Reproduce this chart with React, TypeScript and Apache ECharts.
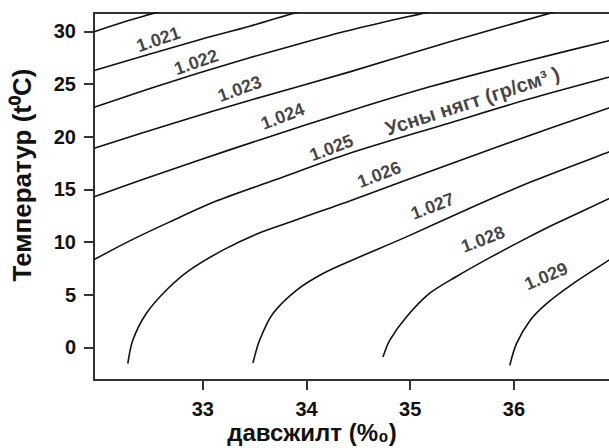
import React, { useEffect, useRef } from "react";
import * as echarts from "echarts";

// Axis ticks
const salinityTicks = [33, 34, 35, 36];
const temperatureTicks = [0, 5, 10, 15, 20, 25, 30];

// Isopycnals: [salinity ‰, temperature °C]
const iso1020 = [[31.952, 29.97], [32.244, 30.92], [32.553, 31.81], [32.73, 32.35]];
const iso1021 = [[31.952, 26.29], [32.483, 27.83], [32.968, 29.21], [33.451, 30.49], [33.904, 31.81], [34.05, 32.2]];
const iso1022 = [[31.952, 22.81], [32.483, 24.55], [32.968, 26.07], [33.451, 27.5], [33.933, 28.83], [34.319, 29.88], [34.802, 31.02], [35.159, 31.81], [35.3, 32.2]];
const iso1023 = [[31.952, 18.91], [32.724, 21.31], [33.448, 23.45], [34.416, 26.16], [35.381, 29.02], [36.375, 31.81], [36.5, 32.2]];
const iso1024 = [[31.952, 14.3], [32.405, 15.89], [32.968, 17.79], [33.547, 19.7], [34.416, 22.45], [35.188, 24.74], [36.057, 27.02], [36.916, 29.12], [37.1, 29.55]];
const iso1025 = [[31.952, 8.34], [32.29, 10.09], [32.676, 11.89], [33.129, 13.89], [33.692, 15.89], [34.416, 18.43], [35.381, 21.31], [36.154, 23.6], [36.916, 25.65], [37.1, 26.1]];
const iso1026 = [[32.276, -1.55], [32.324, 0.67], [32.454, 3.21], [32.647, 5.42], [32.872, 7.33], [33.193, 9.23], [33.515, 10.75], [33.837, 11.89], [34.155, 12.99], [34.416, 13.89], [34.963, 15.89], [35.864, 19.12], [36.916, 22.74], [37.1, 23.35]];
const iso1027 = [[33.483, -1.49], [33.547, 0.67], [33.676, 3.21], [33.902, 5.42], [34.158, 7.01], [34.416, 8.18], [34.963, 10.49], [35.606, 13.35], [36.185, 15.79], [36.916, 18.55], [37.1, 19.2]];
const iso1028 = [[34.737, -0.92], [34.802, 0.67], [34.963, 2.88], [35.188, 5.14], [35.446, 6.73], [35.768, 8.52], [36.086, 10.18], [36.414, 11.8], [36.916, 14.12], [37.1, 15.0]];
const iso1029 = [[35.96, -1.71], [36.025, 0.35], [36.157, 2.57], [36.315, 4.16], [36.571, 6.06], [36.916, 8.28], [37.1, 9.4]];

const isopleths = [iso1020, iso1021, iso1022, iso1023, iso1024, iso1025, iso1026, iso1027, iso1028, iso1029];
const densityNames = ["1.020", "1.021", "1.022", "1.023", "1.024", "1.025", "1.026", "1.027", "1.028", "1.029"];

// Contour labels
const labelTexts = ["1.021", "1.022", "1.023", "1.024", "1.025", "1.026", "1.027", "1.028", "1.029", "Усны нягт (гр/см³ )"];
const labelSalinity = [32.57, 32.935, 33.355, 33.77, 34.24, 34.7, 35.215, 35.7, 36.31, 35.6];
const labelTemperature = [29.25, 27.08, 24.55, 21.94, 18.94, 16.41, 13.4, 10.25, 6.75, 23.4];

const xTitle = "давсжилт (%₀)";
const yTitle = "Температур (t⁰C)";

const FONT = "'Liberation Sans', Arial, Helvetica, sans-serif";

export default function App() {
  const ref = useRef<HTMLDivElement>(null);

  useEffect(() => {
    if (!ref.current) return;
    const chart = echarts.init(ref.current, undefined, { renderer: "svg" });
    const labelRotations = [19, 19, 20, 21, 21, 21, 21, 21, 23, 18];
    const labelSizes = [18, 18, 18, 18, 18, 18, 18, 18, 18, 20];

    const lineSeries = isopleths.map((pts, i) => ({
      type: "line",
      name: densityNames[i],
      data: pts,
      smooth: 0.3,
      showSymbol: false,
      symbol: "none",
      clip: true,
      lineStyle: { color: "#111", width: 1.6 },
      silent: true,
    }));

    const option = {
      animation: false,
      backgroundColor: "#fff",
      grid: {
        left: 94,
        top: 13,
        right: 2.4,
        bottom: 68,
        show: true,
        borderColor: "#333",
        borderWidth: 2,
        backgroundColor: "transparent",
      },
      xAxis: {
        type: "value",
        min: 31.95,
        max: 37.0,
        axisLine: { show: true, onZero: false, lineStyle: { color: "#333", width: 2 } },
        axisTick: { show: true, length: 10, customValues: salinityTicks, lineStyle: { color: "#333", width: 2 } },
        axisLabel: {
          customValues: salinityTicks,
          margin: 19,
          fontSize: 20,
          fontWeight: "bold",
          fontFamily: FONT,
          color: "#111",
        },
        splitLine: { show: false },
      },
      yAxis: {
        type: "value",
        min: -3.1,
        max: 31.75,
        axisLine: { show: true, onZero: false, lineStyle: { color: "#333", width: 2 } },
        axisTick: { show: true, length: 10, customValues: temperatureTicks, lineStyle: { color: "#333", width: 2 } },
        axisLabel: {
          customValues: temperatureTicks,
          margin: 18,
          fontSize: 20,
          fontWeight: "bold",
          fontFamily: FONT,
          color: "#111",
        },
        splitLine: { show: false },
      },
      graphic: [
        {
          type: "text",
          x: 312,
          y: 432,
          style: {
            text: xTitle,
            fontSize: 24,
            fontWeight: "bold",
            fontFamily: FONT,
            fill: "#111",
            align: "center",
            verticalAlign: "middle",
          },
        },
        {
          type: "text",
          x: 22,
          y: 175,
          rotation: Math.PI / 2,
          style: {
            text: yTitle,
            fontSize: 26,
            fontWeight: "bold",
            fontFamily: FONT,
            fill: "#111",
            align: "center",
            verticalAlign: "middle",
          },
        },
      ],
      series: [
        ...lineSeries,
        {
          type: "scatter",
          symbolSize: 1,
          itemStyle: { color: "transparent" },
          silent: true,
          data: labelTexts.map((t, i) => ({
            value: [labelSalinity[i], labelTemperature[i]],
            label: {
              show: true,
              formatter: t,
              position: "inside",
              rotate: labelRotations[i],
              fontSize: labelSizes[i],
              fontWeight: "bold",
              fontFamily: FONT,
              color: "#111",
            },
          })),
        },
      ],
    };
    chart.setOption(option as any);
    return () => chart.dispose();
  }, []);

  return (
    <div style={{ position: "absolute", left: 0, top: 0, width: 609, height: 448, overflow: "hidden", background: "#fff" }}>
      <div ref={ref} style={{ width: 620, height: 448 }} />
    </div>
  );
}
